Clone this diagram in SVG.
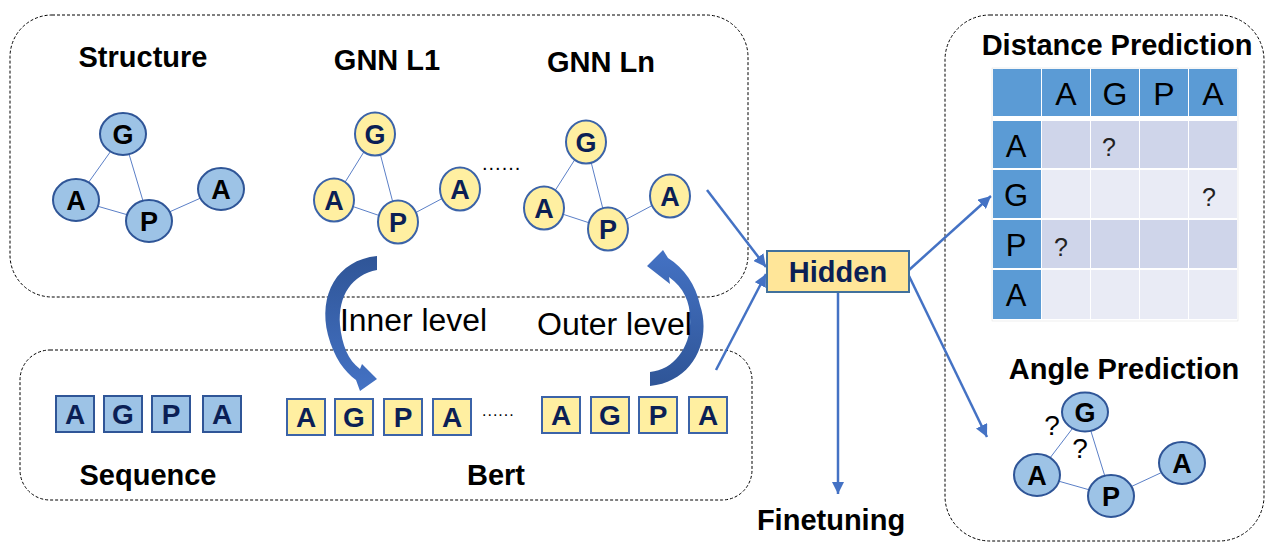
<svg xmlns="http://www.w3.org/2000/svg" width="1266" height="542" viewBox="0 0 1266 542">
<style>
text{font-family:"Liberation Sans",Arial,sans-serif}
.frame{fill:none;stroke:#000;stroke-width:1;stroke-dasharray:3 2}
.title{font-size:29px;font-weight:bold;fill:#000}
.lbl{font-size:31px;fill:#000}
.bn{fill:#9DC3E6;stroke:#2F5597;stroke-width:2}
.yn{fill:#FFEFA1;stroke:#3B63A8;stroke-width:2}
.bl{font-size:27px;font-weight:bold;fill:#000;text-anchor:middle}
.yl{font-size:27px;font-weight:bold;fill:#0B1F55;text-anchor:middle}
.sq{font-size:28px;font-weight:bold;fill:#0B1F55;text-anchor:middle}
.edge{stroke:#5B7FC7;stroke-width:1;fill:none}
.arr{stroke:#4472C4;stroke-width:2.5;fill:none;marker-end:url(#ah)}
.hd{fill:#5B9BD5}
.c1{fill:#CFD5EA}
.c2{fill:#E9EBF5}
.tl{font-size:32px;fill:#000;text-anchor:middle}
.rl{font-size:31px;fill:#000;text-anchor:middle}
.q{font-size:25px;fill:#222;text-anchor:middle}
.dots{font-size:20px;fill:#000;letter-spacing:1px}
</style>
<defs>
<marker id="ah" viewBox="0 0 10 10" refX="10" refY="5" markerWidth="5" markerHeight="5" orient="auto" markerUnits="strokeWidth">
<path d="M0,0 L10,5 L0,10 z" fill="#4472C4"/>
</marker>
<linearGradient id="gIn" x1="0" y1="0" x2="0" y2="1">
<stop offset="0" stop-color="#2F5597"/>
<stop offset="1" stop-color="#4472C4"/>
</linearGradient>
<linearGradient id="gOut" x1="0" y1="0" x2="0" y2="1">
<stop offset="0" stop-color="#4472C4"/>
<stop offset="1" stop-color="#2F5597"/>
</linearGradient>
</defs>

<!-- frames -->
<g id="structure-panel">
<rect class="frame" x="10" y="15" width="738" height="282" rx="42"/>
</g>
<g id="sequence-panel">
<rect class="frame" x="20" y="350" width="732" height="150" rx="30"/>
</g>
<g id="prediction-panel">
<rect class="frame" x="945" y="15" width="319" height="526" rx="45"/>
</g>

<!-- connectors -->
<g id="connectors">
<line class="edge" x1="123" y1="134" x2="76" y2="200"/>
<line class="edge" x1="123" y1="134" x2="149" y2="221"/>
<line class="edge" x1="76" y1="200" x2="149" y2="221"/>
<line class="edge" x1="149" y1="221" x2="221" y2="189"/>
<line class="edge" x1="375" y1="134" x2="334" y2="200"/>
<line class="edge" x1="375" y1="134" x2="398" y2="222"/>
<line class="edge" x1="334" y1="200" x2="398" y2="222"/>
<line class="edge" x1="398" y1="222" x2="460" y2="189"/>
<line class="edge" x1="586" y1="142" x2="544" y2="208"/>
<line class="edge" x1="586" y1="142" x2="608" y2="229"/>
<line class="edge" x1="544" y1="208" x2="608" y2="229"/>
<line class="edge" x1="608" y1="229" x2="670" y2="196"/>
<line class="edge" x1="1085" y1="412" x2="1037" y2="475"/>
<line class="edge" x1="1085" y1="412" x2="1111" y2="496"/>
<line class="edge" x1="1037" y1="475" x2="1111" y2="496"/>
<line class="edge" x1="1111" y1="496" x2="1182" y2="463"/>
<line class="arr" x1="707" y1="190" x2="766" y2="267"/>
<line class="arr" x1="716" y1="370" x2="766" y2="274"/>
<line class="arr" x1="838" y1="292" x2="838" y2="494"/>
<line class="arr" x1="909" y1="270" x2="991" y2="196"/>
<line class="arr" x1="909" y1="276" x2="987" y2="437"/>
<path id="inner-arrow" fill="url(#gIn)" d="M377 256 C337 260 318 295 328 335 C334 358 345 372 356 380 L360 391 L377 379 L362 364 L360 369 C348 360 342 345 340 325 C338 295 352 275 377 270 Z"/>
<path id="outer-arrow" fill="url(#gOut)" d="M650 386 C693 382 712 340 700 305 C696 285 684 268 668 258 L663 250 L647 266 L670 284 L669 277 C684 288 690 302 690 318 C692 345 675 370 650 372 Z"/>
</g>

<!-- top panel titles -->
<text class="title" x="143" y="67" text-anchor="middle">Structure</text>
<text class="title" x="387" y="70" text-anchor="middle">GNN L1</text>
<text class="title" x="601" y="72" text-anchor="middle">GNN Ln</text>

<!-- structure graph -->
<g id="s-G"><ellipse class="bn" cx="123" cy="134" rx="23" ry="21"/><text class="bl" x="123" y="144">G</text></g>
<g id="s-A1"><ellipse class="bn" cx="76" cy="200" rx="23" ry="21"/><text class="bl" x="76" y="210">A</text></g>
<g id="s-P"><ellipse class="bn" cx="149" cy="221" rx="23" ry="21"/><text class="bl" x="149" y="231">P</text></g>
<g id="s-A2"><ellipse class="bn" cx="221" cy="189" rx="23" ry="21"/><text class="bl" x="221" y="199">A</text></g>

<!-- GNN L1 graph -->
<g id="l1-G"><ellipse class="yn" cx="375" cy="134" rx="20" ry="21.5"/><text class="yl" x="375" y="144">G</text></g>
<g id="l1-A1"><ellipse class="yn" cx="334" cy="200" rx="20" ry="21.5"/><text class="yl" x="334" y="210">A</text></g>
<g id="l1-P"><ellipse class="yn" cx="398" cy="222" rx="20" ry="21.5"/><text class="yl" x="398" y="232">P</text></g>
<g id="l1-A2"><ellipse class="yn" cx="460" cy="189" rx="20" ry="21.5"/><text class="yl" x="460" y="199">A</text></g>
<text class="dots" x="482" y="170">......</text>

<!-- GNN Ln graph -->
<g id="ln-G"><ellipse class="yn" cx="586" cy="142" rx="20" ry="21.5"/><text class="yl" x="586" y="152">G</text></g>
<g id="ln-A1"><ellipse class="yn" cx="544" cy="208" rx="20" ry="21.5"/><text class="yl" x="544" y="218">A</text></g>
<g id="ln-P"><ellipse class="yn" cx="608" cy="229" rx="20" ry="21.5"/><text class="yl" x="608" y="239">P</text></g>
<g id="ln-A2"><ellipse class="yn" cx="670" cy="196" rx="20" ry="21.5"/><text class="yl" x="670" y="206">A</text></g>

<!-- level labels -->
<text class="lbl" x="340" y="331" textLength="147" lengthAdjust="spacingAndGlyphs">Inner level</text>
<text class="lbl" x="537" y="335" textLength="155" lengthAdjust="spacingAndGlyphs">Outer level</text>

<!-- sequence -->
<g id="seq">
<rect class="bn" x="56" y="396" width="38" height="36"/><text class="sq" x="75" y="424">A</text>
<rect class="bn" x="104" y="396" width="38" height="36"/><text class="sq" x="123" y="424">G</text>
<rect class="bn" x="152" y="396" width="38" height="36"/><text class="sq" x="171" y="424">P</text>
<rect class="bn" x="203" y="396" width="38" height="36"/><text class="sq" x="222" y="424">A</text>
</g>
<g id="bert1">
<rect class="yn" x="287" y="399" width="38" height="36"/><text class="sq" x="306" y="427">A</text>
<rect class="yn" x="335" y="399" width="38" height="36"/><text class="sq" x="354" y="427">G</text>
<rect class="yn" x="384" y="399" width="38" height="36"/><text class="sq" x="403" y="427">P</text>
<rect class="yn" x="433" y="399" width="38" height="36"/><text class="sq" x="452" y="427">A</text>
</g>
<text class="dots" x="482" y="416" style="font-size:16px">......</text>
<g id="bertn">
<rect class="yn" x="542" y="397" width="38" height="36"/><text class="sq" x="561" y="425">A</text>
<rect class="yn" x="591" y="397" width="38" height="36"/><text class="sq" x="610" y="425">G</text>
<rect class="yn" x="639" y="397" width="38" height="36"/><text class="sq" x="658" y="425">P</text>
<rect class="yn" x="689" y="397" width="38" height="36"/><text class="sq" x="708" y="425">A</text>
</g>
<text class="title" x="148" y="485" text-anchor="middle">Sequence</text>
<text class="title" x="496" y="485" text-anchor="middle">Bert</text>

<!-- hidden -->
<g id="hidden">
<rect x="767" y="251" width="142" height="41" fill="#FFE699" stroke="#41719C" stroke-width="2"/>
<text x="838" y="282" font-size="29" font-weight="bold" fill="#0B1F55" text-anchor="middle">Hidden</text>
</g>
<text class="title" x="831" y="530" text-anchor="middle">Finetuning</text>

<!-- distance prediction -->
<g id="distance">
<text class="title" x="1117" y="55" text-anchor="middle">Distance Prediction</text>
<rect x="992" y="68" width="246" height="253" fill="#fff" stroke="#ddd" stroke-width="0.5"/>
<rect class="hd" x="993" y="69" width="48" height="47"/>
<rect class="hd" x="1042" y="69" width="48" height="47"/>
<rect class="hd" x="1091" y="69" width="48" height="47"/>
<rect class="hd" x="1140" y="69" width="48" height="47"/>
<rect class="hd" x="1189" y="69" width="48" height="47"/>
<rect class="hd" x="993" y="121" width="48" height="47"/>
<rect class="hd" x="993" y="170" width="48" height="48"/>
<rect class="hd" x="993" y="220" width="48" height="48"/>
<rect class="hd" x="993" y="270" width="48" height="49"/>
<rect class="c1" x="1042" y="121" width="48" height="47"/>
<rect class="c1" x="1091" y="121" width="48" height="47"/>
<rect class="c1" x="1140" y="121" width="48" height="47"/>
<rect class="c1" x="1189" y="121" width="48" height="47"/>
<rect class="c2" x="1042" y="170" width="48" height="48"/>
<rect class="c2" x="1091" y="170" width="48" height="48"/>
<rect class="c2" x="1140" y="170" width="48" height="48"/>
<rect class="c2" x="1189" y="170" width="48" height="48"/>
<rect class="c1" x="1042" y="220" width="48" height="48"/>
<rect class="c1" x="1091" y="220" width="48" height="48"/>
<rect class="c1" x="1140" y="220" width="48" height="48"/>
<rect class="c1" x="1189" y="220" width="48" height="48"/>
<rect class="c2" x="1042" y="270" width="48" height="49"/>
<rect class="c2" x="1091" y="270" width="48" height="49"/>
<rect class="c2" x="1140" y="270" width="48" height="49"/>
<rect class="c2" x="1189" y="270" width="48" height="49"/>
<text class="tl" x="1066" y="105">A</text>
<text class="tl" x="1115" y="105">G</text>
<text class="tl" x="1164" y="105">P</text>
<text class="tl" x="1213" y="105">A</text>
<text class="rl" x="1016" y="157">A</text>
<text class="rl" x="1016" y="206">G</text>
<text class="rl" x="1016" y="256">P</text>
<text class="rl" x="1016" y="306">A</text>
<text class="q" x="1109" y="156">?</text>
<text class="q" x="1209" y="206">?</text>
<text class="q" x="1061" y="256">?</text>
</g>

<!-- angle prediction -->
<g id="angle">
<text class="title" x="1124" y="379" text-anchor="middle">Angle Prediction</text>
<text x="1052" y="435" font-size="28" fill="#000" text-anchor="middle">?</text>
<text x="1080" y="458" font-size="28" fill="#000" text-anchor="middle">?</text>
</g>
<g id="a-G"><ellipse class="bn" cx="1085" cy="412" rx="23" ry="19.5"/><text class="bl" x="1085" y="422">G</text></g>
<g id="a-A1"><ellipse class="bn" cx="1037" cy="475" rx="23" ry="21"/><text class="bl" x="1037" y="485">A</text></g>
<g id="a-P"><ellipse class="bn" cx="1111" cy="496" rx="23" ry="21"/><text class="bl" x="1111" y="506">P</text></g>
<g id="a-A2"><ellipse class="bn" cx="1182" cy="463" rx="23" ry="21"/><text class="bl" x="1182" y="473">A</text></g>
</svg>
